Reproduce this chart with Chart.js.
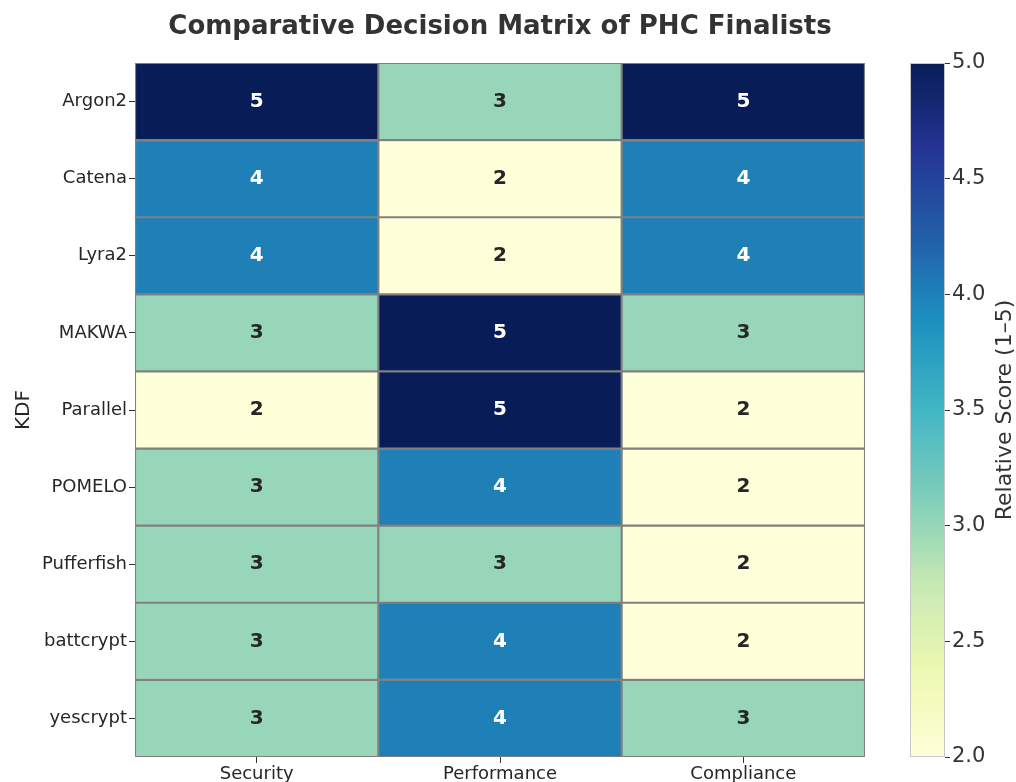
<!DOCTYPE html>
<html>
<head>
<meta charset="utf-8">
<script src="https://cdn.jsdelivr.net/npm/chart.js@4.4.1/dist/chart.umd.min.js"></script>
<style>
  html, body { margin: 0; padding: 0; background: #fff; overflow: hidden; }
  #wrap { position: relative; width: 1016px; height: 782px; overflow: hidden; }
  #heat { position: absolute; left: 0; top: 0; }
  #bar { position: absolute; left: 880px; top: 0; }
</style>
</head>
<body>
<div id="wrap">
  <canvas id="heat" width="1000" height="800"></canvas>
  <canvas id="bar" width="136" height="782"></canvas>
</div>
<script>
const kdfs = ["Argon2", "Catena", "Lyra2", "MAKWA", "Parallel", "POMELO", "Pufferfish", "battcrypt", "yescrypt"];
const criteria = ["Security", "Performance", "Compliance"];
const security    = [5, 4, 4, 3, 2, 3, 3, 3, 3];
const performance = [3, 2, 2, 5, 5, 4, 3, 4, 4];
const compliance  = [5, 4, 4, 3, 2, 2, 2, 2, 3];
const scoreMin = 2;
const scoreMax = 5;
const cbarTicks = [2.0, 2.5, 3.0, 3.5, 4.0, 4.5, 5.0];

// YlGnBu
const ylgnbu = ["#ffffd9", "#edf8b1", "#c7e9b4", "#7fcdbb", "#41b6c4", "#1d91c0", "#225ea8", "#253494", "#081d58"];

function hexRgb(h) {
  return [parseInt(h.slice(1, 3), 16), parseInt(h.slice(3, 5), 16), parseInt(h.slice(5, 7), 16)];
}
function cmap(v) {
  let t = (v - scoreMin) / (scoreMax - scoreMin);
  t = Math.max(0, Math.min(1, t)) * (ylgnbu.length - 1);
  const i = Math.min(Math.floor(t), ylgnbu.length - 2);
  const f = t - i;
  const a = hexRgb(ylgnbu[i]), b = hexRgb(ylgnbu[i + 1]);
  const c = a.map((x, k) => Math.round(x + (b[k] - x) * f));
  return "rgb(" + c.join(",") + ")";
}

const matrix = kdfs.map((k, i) => [security[i], performance[i], compliance[i]]);

const FONT = "'DejaVu Sans', sans-serif";
const textColor = "#262626";

const cellLabels = {
  id: "cellLabels",
  afterDatasetsDraw(chart) {
    const c = chart.ctx;
    c.save();
    c.font = "bold 20px " + FONT;
    c.textAlign = "center";
    c.textBaseline = "middle";
    chart.data.datasets.forEach((ds, r) => {
      chart.getDatasetMeta(r).data.forEach((bar, j) => {
        const v = matrix[r][j];
        const mid = (bar.y + bar.base) / 2;
        c.fillStyle = v >= 4 ? "#ffffff" : textColor;
        c.fillText(String(v), bar.x, mid);
      });
    });
    c.restore();
  },
  afterDraw(chart) {
    const c = chart.ctx;
    const a = chart.chartArea;
    c.save();
    c.font = "bold 26px " + FONT;
    c.fillStyle = "#333333";
    c.textAlign = "center";
    c.textBaseline = "middle";
    c.fillText("Comparative Decision Matrix of PHC Finalists", (a.left + a.right) / 2, 27);
    c.restore();
  }
};

new Chart(document.getElementById("heat"), {
  type: "bar",
  data: {
    labels: criteria,
    datasets: kdfs.map((k, r) => ({
      label: k,
      data: criteria.map(() => [r, r + 1]),
      backgroundColor: matrix[r].map(cmap),
      borderColor: "#808080",
      borderWidth: 1.4,
      borderSkipped: false,
      barPercentage: 1,
      categoryPercentage: 1,
      grouped: false
    }))
  },
  options: {
    responsive: false,
    animation: false,
    layout: { padding: { left: 0, right: 135, top: 63, bottom: 0 } },
    plugins: {
      legend: { display: false },
      tooltip: { enabled: false },
      title: { display: false }
    },
    scales: {
      x: {
        grid: { drawOnChartArea: false, drawTicks: true, tickLength: 6, offset: false, color: "#333" },
        border: { display: false },
        ticks: { color: textColor, font: { family: FONT, size: 18 }, padding: 1 },
        afterFit(s) { s.height = 800 - 757; }
      },
      y: {
        min: 0,
        max: kdfs.length,
        reverse: true,
        afterBuildTicks(s) { s.ticks = kdfs.map((k, i) => ({ value: i + 0.5 })); },
        grid: { drawOnChartArea: false, drawTicks: true, tickLength: 6, color: "#333" },
        border: { display: false },
        ticks: {
          color: textColor,
          font: { family: FONT, size: 18 },
          padding: 2,
          autoSkip: false,
          callback: (v, i) => kdfs[i]
        },
        title: { display: true, text: "KDF", color: textColor, font: { family: FONT, size: 20 }, padding: { top: 12, bottom: 0 } },
        afterFit(s) { s.width = 135; }
      }
    }
  },
  plugins: [cellLabels]
});

const cbarLabel = {
  id: "cbarLabel",
  afterDraw(chart) {
    const c = chart.ctx;
    const a = chart.chartArea;
    c.save();
    c.strokeStyle = "#c8c8c8";
    c.lineWidth = 1;
    c.strokeRect(a.left + 0.5, a.top + 0.5, a.right - a.left - 1, a.bottom - a.top - 1);
    c.translate(125, (a.top + a.bottom) / 2);
    c.rotate(-Math.PI / 2);
    c.font = "22px " + FONT;
    c.fillStyle = "#333333";
    c.textAlign = "center";
    c.textBaseline = "middle";
    c.fillText("Relative Score (1\u20135)", 0, 0);
    c.restore();
  }
};

new Chart(document.getElementById("bar"), {
  type: "bar",
  data: {
    labels: [""],
    datasets: [{
      data: [[scoreMin, scoreMax]],
      backgroundColor(ctx) {
        const a = ctx.chart.chartArea;
        if (!a) return ylgnbu[0];
        const g = ctx.chart.ctx.createLinearGradient(0, a.bottom, 0, a.top);
        ylgnbu.forEach((col, i) => g.addColorStop(i / (ylgnbu.length - 1), col));
        return g;
      },
      borderWidth: 0,
      barPercentage: 1,
      categoryPercentage: 1
    }]
  },
  options: {
    responsive: false,
    animation: false,
    layout: { padding: { left: 30, right: 0, top: 63, bottom: 25 } },
    plugins: { legend: { display: false }, tooltip: { enabled: false } },
    scales: {
      x: { display: false },
      y: {
        position: "right",
        min: scoreMin,
        max: scoreMax,
        afterBuildTicks(s) { s.ticks = cbarTicks.map(v => ({ value: v })); },
        grid: { drawOnChartArea: false, drawTicks: true, tickLength: 5, color: "#333" },
        border: { display: false },
        ticks: {
          color: "#333333",
          font: { family: FONT, size: 21 },
          padding: 2,
          callback: v => Number(v).toFixed(1)
        },
        afterFit(s) { s.width = 71; }
      }
    }
  },
  plugins: [cbarLabel]
});
</script>
</body>
</html>
